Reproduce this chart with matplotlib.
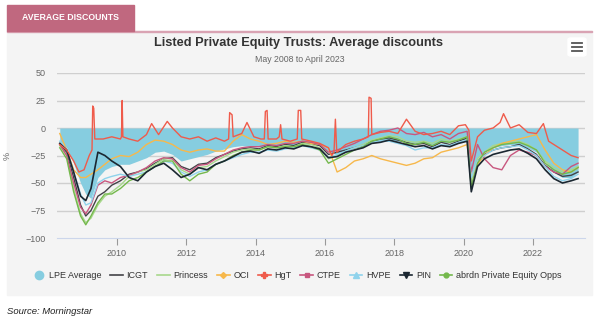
import matplotlib
matplotlib.use("Agg")
import matplotlib.pyplot as plt
from matplotlib.patches import Rectangle, FancyBboxPatch
from matplotlib.lines import Line2D

plt.rcParams['font.family'] = ['Liberation Sans', 'DejaVu Sans']

# common date grid (decimal years)
dates = [2008.35, 2008.55, 2008.75, 2008.95,
         2009.1, 2009.25, 2009.45, 2009.65, 2009.85,
         2010.1, 2010.35, 2010.6, 2010.85,
         2011.1, 2011.35, 2011.6, 2011.85,
         2012.1, 2012.35, 2012.6, 2012.85,
         2013.1, 2013.35, 2013.6, 2013.85,
         2014.1, 2014.35, 2014.6, 2014.85,
         2015.1, 2015.35, 2015.6, 2015.85,
         2016.1, 2016.35, 2016.6, 2016.85,
         2017.1, 2017.35, 2017.6, 2017.85,
         2018.1, 2018.35, 2018.6, 2018.85,
         2019.1, 2019.35, 2019.6, 2019.85,
         2020.1, 2020.22, 2020.4, 2020.6, 2020.85,
         2021.1, 2021.35, 2021.6, 2021.85,
         2022.1, 2022.35, 2022.6, 2022.85,
         2023.1, 2023.3]

lpe_avg = [-12, -18, -32, -50,
           -60, -64, -45, -38, -35,
           -33, -33, -30, -27,
           -22, -21, -24, -30,
           -28, -26, -24, -21,
           -19, -17, -16, -17,
           -17, -16, -16, -15,
           -15, -14, -15, -16,
           -21, -24, -21, -18,
           -16, -13, -12, -11,
           -12, -12, -14, -14,
           -15, -13, -13, -11,
           -10, -42, -27, -22, -18,
           -16, -15, -16, -18,
           -22, -30, -40, -45,
           -45, -40]

icgt = [-15, -22, -45, -70,
        -80, -75, -62, -58, -52,
        -48, -42, -40, -37,
        -32, -28, -27, -35,
        -38, -33, -32, -27,
        -24, -21, -19, -18,
        -19, -16, -17, -15,
        -16, -13, -14, -16,
        -24, -22, -20, -18,
        -16, -12, -10, -9,
        -11, -13, -15, -14,
        -17, -13, -15, -12,
        -9, -52, -30, -24, -20,
        -18, -17, -15, -19,
        -24, -34, -40, -44,
        -43, -40]

princess = [-16, -25, -55, -78,
            -86, -82, -70, -62, -58,
            -52, -44, -40, -38,
            -33, -28, -28, -38,
            -42, -36, -35, -30,
            -26, -22, -20, -19,
            -20, -17, -18, -16,
            -17, -14, -15, -18,
            -28, -25, -21, -18,
            -15, -11, -9, -7,
            -8, -12, -13, -12,
            -14, -10, -12, -10,
            -8, -50, -28, -22, -16,
            -14, -13, -12, -15,
            -20, -30, -36, -40,
            -38, -35]

oci = [-5, -20, -38, -45,
       -45, -42, -38, -33, -28,
       -25, -26, -22, -15,
       -11, -12, -15, -20,
       -22, -20, -19, -21,
       -21, -12, -6, -10,
       -12, -15, -14, -12,
       -13, -12, -14, -15,
       -18, -40, -36, -30,
       -28, -25, -28, -30,
       -32, -34, -32, -28,
       -27, -22, -20, -18,
       -15, -44, -33, -25, -18,
       -14, -12, -10, -8,
       -6, -20, -32, -38,
       -40, -36]

ctpe = [-15, -25, -50, -72,
        -78, -70, -52, -48, -50,
        -45, -43, -40, -36,
        -30, -27, -28, -36,
        -40, -34, -33, -28,
        -24, -20, -18, -17,
        -17, -15, -16, -14,
        -14, -12, -13, -15,
        -22, -20, -17, -14,
        -10, -6, -3, -2,
        0, -5, -6, -4,
        -8, -6, -10, -5,
        -3, -40, -15, -28, -36,
        -38, -25, -20, -22,
        -25, -35, -40, -42,
        -35, -32]

hvpe = [-12, -20, -40, -60,
        -70, -68, -50, -46, -44,
        -42, -44, -42, -40,
        -35, -30, -32, -40,
        -44, -40, -38, -33,
        -30, -27, -24, -22,
        -22, -20, -21, -19,
        -18, -16, -18, -20,
        -27, -24, -21, -18,
        -16, -13, -12, -12,
        -14, -16, -20, -18,
        -18, -15, -16, -13,
        -11, -45, -30, -25, -20,
        -18, -17, -16, -20,
        -25, -35, -44, -48,
        -46, -42]

pin = [-14, -20, -40, -62,
       -66, -55, -22, -25, -30,
       -35, -45, -48, -40,
       -35, -32, -38, -45,
       -42, -36, -38, -33,
       -30, -26, -22, -21,
       -23, -19, -20, -18,
       -19, -16, -17, -19,
       -27, -26, -22, -20,
       -18, -14, -13, -11,
       -13, -15, -17, -16,
       -19, -16, -17, -14,
       -12, -58, -35, -28, -24,
       -22, -20, -19, -23,
       -28, -38, -46, -50,
       -48, -46]

abrdn = [-18, -28, -58, -80,
         -88, -80, -68, -60, -60,
         -55, -48, -45, -40,
         -35, -30, -30, -42,
         -48, -42, -40, -33,
         -30, -25, -22, -20,
         -20, -17, -18, -17,
         -17, -15, -17, -20,
         -32, -28, -24, -20,
         -17, -12, -10, -8,
         -10, -14, -15, -13,
         -16, -12, -13, -11,
         -8, -55, -32, -22, -18,
         -15, -14, -13, -16,
         -20, -32, -38, -42,
         -40, -36]

# HgT has its own dates because of the short spikes
hgt_points = [(2008.35, -15), (2008.55, -20), (2008.75, -30), (2008.9, -40),
              (2009.05, -38), (2009.2, -25), (2009.28, -20), (2009.3, 20),
              (2009.33, 18), (2009.36, -10), (2009.6, -10), (2009.85, -8),
              (2010.1, -10), (2010.13, -8), (2010.15, 25), (2010.17, -8),
              (2010.35, -10), (2010.6, -12), (2010.85, -6), (2011.0, 4),
              (2011.2, -6), (2011.45, 6), (2011.6, 0), (2011.85, -8),
              (2012.1, -10), (2012.35, -8), (2012.6, -12), (2012.85, -9),
              (2013.1, -12), (2013.22, -10), (2013.25, 14), (2013.32, 12),
              (2013.35, -8), (2013.6, -5), (2013.75, 5), (2013.95, -8),
              (2014.15, -10), (2014.25, -10), (2014.28, 15), (2014.33, 16),
              (2014.36, -10), (2014.6, -10), (2014.68, -8), (2014.72, 3),
              (2014.76, -10), (2015.0, -12), (2015.2, -10), (2015.23, 16),
              (2015.3, 16), (2015.33, -10), (2015.6, -12), (2015.85, -14),
              (2016.1, -18), (2016.2, -25), (2016.26, -22), (2016.3, 8),
              (2016.34, -22), (2016.6, -15), (2016.85, -12), (2017.1, -10),
              (2017.25, -8), (2017.27, 28), (2017.33, 27), (2017.35, -6),
              (2017.6, -4), (2017.85, -3), (2018.1, -5), (2018.35, 8),
              (2018.6, -3), (2018.85, -6), (2019.1, -5), (2019.35, -3),
              (2019.6, -6), (2019.85, 2), (2020.05, 3), (2020.15, -2),
              (2020.22, -30), (2020.4, -8), (2020.6, -2), (2020.85, 0),
              (2021.05, 5), (2021.15, 13), (2021.35, 0), (2021.6, 3),
              (2021.85, -4), (2022.1, -5), (2022.3, 4), (2022.45, -12),
              (2022.6, -15), (2022.85, -20), (2023.1, -25), (2023.3, -27)]
hgt_t = [p[0] for p in hgt_points]
hgt_v = [p[1] for p in hgt_points]

yticks = [50, 25, 0, -25, -50, -75, -100]
xticks = [2010, 2012, 2014, 2016, 2018, 2020, 2022]

fig = plt.figure(figsize=(6, 3.28), dpi=100)
W, H = 600.0, 328.0

def fx(px):
    return px / W

def fy(py):
    return 1 - py / H

# grey panel, pink rule and tab
fig.patches.append(Rectangle((fx(7), fy(295)), fx(585), (295 - 31) / H,
                             transform=fig.transFigure, color='#f4f4f4', zorder=-2))
fig.patches.append(Rectangle((fx(7), fy(32)), fx(585), 1.5 / H,
                             transform=fig.transFigure, color='#d9a3b3', zorder=-1))
fig.patches.append(Rectangle((fx(7), fy(31)), fx(127), 26 / H,
                             transform=fig.transFigure, color='#c0687f', zorder=-1))
fig.text(fx(70), fy(18), 'AVERAGE DISCOUNTS', color='white', fontsize=6.3,
         fontweight='bold', ha='center', va='center')

fig.text(fx(299), fy(43), 'Listed Private Equity Trusts: Average discounts',
         fontsize=9.2, fontweight='bold', color='#333333', ha='center', va='center')
fig.text(fx(300), fy(59), 'May 2008 to April 2023', fontsize=6.3,
         color='#666666', ha='center', va='center')

# menu button
fig.patches.append(FancyBboxPatch((fx(568), fy(56)), 18 / W, 18 / H,
                                  boxstyle='round,pad=0,rounding_size=0.005',
                                  transform=fig.transFigure, color='white', zorder=-1))
for dy in (43, 47, 51):
    fig.lines.append(Line2D([fx(572), fx(582)], [fy(dy), fy(dy)],
                            transform=fig.transFigure, color='#555555', lw=1.3))

fig.text(fx(7), fy(311), 'Source: Morningstar', fontsize=6.8, style='italic',
         color='#222222', ha='left', va='center')

ax = fig.add_axes([fx(57), fy(238), (585 - 57) / W, (238 - 73) / H])
ax.set_zorder(2)
ax.set_facecolor('none')
ax.set_xlim(2008.27, 2023.5)
ax.set_ylim(-100, 50)

# horizontal grid
for yv in yticks[:-1]:
    ax.axhline(yv, color='#cfcfcf', lw=1.0, zorder=0.5)

ax.fill_between(dates, 0, lpe_avg, color='#86cde0', lw=0, zorder=1)

series = [
    (icgt, '#434348', 1.0),
    (princess, '#a8d88c', 1.0),
    (oci, '#f7b84b', 1.0),
    (ctpe, '#c8577f', 1.0),
    (hvpe, '#8fd3ec', 1.0),
    (abrdn, '#74b84c', 1.0),
    (pin, '#1b2731', 1.2),
]
for vals, col, lw in series:
    ax.plot(dates, vals, color=col, lw=lw, zorder=3)
ax.plot(hgt_t, hgt_v, color='#ef5b4b', lw=1.0, zorder=3)

ax.set_yticks(yticks)
ax.set_xticks(xticks)
for s in ['top', 'right', 'left']:
    ax.spines[s].set_visible(False)
ax.spines['bottom'].set_color('#ccd6eb')
ax.tick_params(axis='y', length=0, labelsize=6.5, labelcolor='#666666', pad=8)
ax.tick_params(axis='x', length=5, color='#999999', labelsize=6.5,
               labelcolor='#666666', pad=3)
ax.set_ylabel('%', fontsize=6.5, color='#666666', labelpad=10)

handles = [
    Line2D([], [], ls='none', marker='o', ms=6, color='#86cde0'),
    Line2D([], [], color='#434348', lw=1.2),
    Line2D([], [], color='#a8d88c', lw=1.2),
    Line2D([], [], color='#f7b84b', lw=1.2, marker='D', ms=3),
    Line2D([], [], color='#ef5b4b', lw=1.2, marker='P', ms=4),
    Line2D([], [], color='#c8577f', lw=1.2, marker='s', ms=3.5),
    Line2D([], [], color='#8fd3ec', lw=1.2, marker='^', ms=4),
    Line2D([], [], color='#1b2731', lw=1.2, marker='v', ms=4),
    Line2D([], [], color='#74b84c', lw=1.2, marker='o', ms=3.5),
]
labels = ['LPE Average', 'ICGT', 'Princess', 'OCI', 'HgT', 'CTPE', 'HVPE',
          'PIN', 'abrdn Private Equity Opps']
leg = fig.legend(handles, labels, loc='center', bbox_to_anchor=(fx(297), fy(276)),
                 ncol=9, frameon=False, fontsize=6.5, handlelength=1.4,
                 handletextpad=0.4, columnspacing=1.0, labelcolor='#333333')

fig.savefig('out.png', dpi=100)
